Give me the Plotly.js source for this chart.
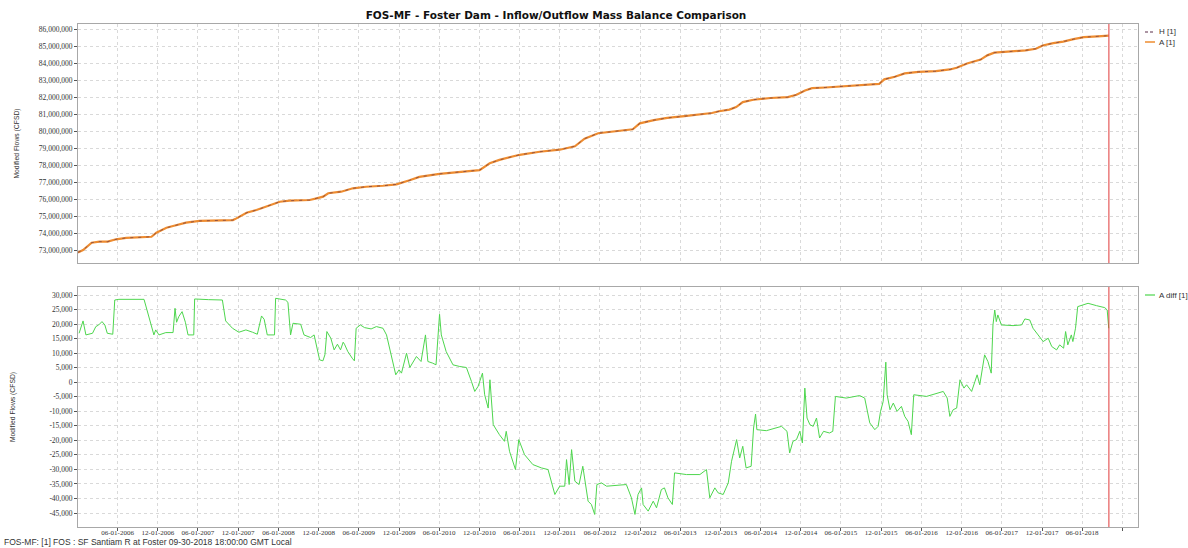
<!DOCTYPE html>
<html>
<head>
<meta charset="utf-8">
<script src="https://cdn.plot.ly/plotly-3.0.1.min.js"></script>
<style>html,body{margin:0;padding:0;background:#fff;}#chart{width:1188px;height:548px;}</style>
</head>
<body>
<div id="chart"></div>
<script>
// ---------- DATA ----------
const chartTitle = 'FOS-MF - Foster Dam - Inflow/Outflow Mass Balance Comparison';
const footerText = 'FOS-MF: [1] FOS : SF Santiam R at Foster 09-30-2018 18:00:00 GMT Local';
const yTitle = 'Modified Flows (CFSD)';
const seriesNames = ['H [1]', 'A [1]', 'A diff [1]'];
const markerTime = '2018-09-30 18:00';

const cumDates = ['2005-12-03','2005-12-26','2006-02-03','2006-03-10','2006-04-17','2006-05-25','2006-07-10','2006-09-09','2006-11-02','2006-11-24',
'2007-01-09','2007-02-08','2007-04-08','2007-06-08','2007-08-23','2007-11-07','2007-11-23','2008-01-08','2008-02-22','2008-04-22',
'2008-06-07','2008-07-22','2008-10-21','2008-11-21','2008-12-21','2009-01-13','2009-03-13','2009-05-05','2009-07-05','2009-09-19',
'2009-11-19','2010-01-18','2010-03-03','2010-06-03','2010-09-25','2010-12-02','2011-01-17','2011-03-02','2011-06-02','2011-09-01',
'2011-12-01','2012-02-08','2012-03-23','2012-05-24','2012-10-28','2012-11-29','2013-02-01','2013-04-03','2013-06-20','2013-09-07',
'2013-10-23','2013-11-24','2014-01-10','2014-02-10','2014-03-12','2014-04-29','2014-07-16','2014-10-03','2014-11-11','2014-12-20',
'2015-01-21','2015-03-23','2015-05-24','2015-08-11','2015-10-29','2015-11-22','2015-12-15','2016-02-01','2016-03-17','2016-05-19',
'2016-08-06','2016-10-08','2016-11-08','2016-12-25','2017-02-25','2017-03-27','2017-04-28','2017-06-30','2017-09-17','2017-11-03',
'2017-12-04','2018-01-21','2018-03-07','2018-04-23','2018-06-09','2018-08-11','2018-09-30'];

const cumA = [72860000,73000000,73430000,73490000,73490000,73630000,73710000,73750000,73780000,74020000,
74310000,74410000,74610000,74710000,74750000,74760000,74860000,75190000,75350000,75610000,
75840000,75900000,75940000,76040000,76140000,76340000,76430000,76630000,76720000,76780000,
76860000,77100000,77300000,77480000,77600000,77700000,78100000,78300000,78600000,78780000,
78900000,79100000,79550000,79870000,80100000,80450000,80640000,80770000,80870000,80970000,
81060000,81160000,81260000,81410000,81700000,81840000,81940000,81990000,82130000,82380000,
82520000,82560000,82610000,82650000,82710000,82770000,83040000,83190000,83390000,83480000,
83520000,83620000,83720000,83970000,84200000,84450000,84610000,84680000,84740000,84840000,
85030000,85170000,85260000,85400000,85520000,85570000,85610000];

const cumH = [72860000,73000000,73430000,73490000,73490000,73630000,73710000,73750000,73780000,74020000,
74310000,74410000,74610000,74710000,74750000,74760000,74860000,75190000,75350000,75610000,
75840000,75900000,75940000,76040000,76140000,76340000,76430000,76630000,76720000,76780000,
76860000,77100000,77300000,77480000,77600000,77700000,78100000,78300000,78600000,78780000,
78900000,79100000,79550000,79870000,80100000,80450000,80640000,80770000,80870000,80970000,
81060000,81160000,81260000,81410000,81700000,81840000,81940000,81990000,82130000,82380000,
82520000,82560000,82610000,82650000,82710000,82770000,83040000,83190000,83390000,83480000,
83520000,83620000,83720000,83970000,84200000,84450000,84610000,84680000,84740000,84840000,
85030000,85170000,85260000,85400000,85520000,85570000,85610000];

const diffDates = ['2005-12-08','2005-12-26','2006-01-08','2006-02-07','2006-02-22','2006-03-07','2006-03-22','2006-04-04','2006-04-15','2006-05-10',
'2006-05-19','2006-06-07','2006-09-29','2006-10-24','2006-11-13','2006-11-21','2006-12-06','2007-01-06','2007-02-08','2007-02-17',
'2007-02-24','2007-03-06','2007-03-21','2007-04-05','2007-04-17','2007-05-13','2007-05-17','2007-07-20','2007-09-20','2007-10-05',
'2007-11-05','2007-12-04','2008-01-05','2008-02-04','2008-02-26','2008-03-16','2008-03-28','2008-04-11','2008-05-14','2008-05-19',
'2008-07-03','2008-07-14','2008-07-26','2008-08-06','2008-09-10','2008-09-25','2008-10-25','2008-11-10','2008-11-21','2008-12-05',
'2008-12-20','2008-12-29','2009-01-07','2009-01-25','2009-02-09','2009-02-24','2009-03-10','2009-03-22','2009-03-28','2009-04-12',
'2009-05-02','2009-05-12','2009-05-20','2009-06-08','2009-06-27','2009-07-27','2009-08-20','2009-09-19','2009-10-05','2009-11-04',
'2009-11-16','2009-12-01','2009-12-12','2010-01-04','2010-01-19','2010-02-18','2010-03-11','2010-03-31','2010-04-11','2010-05-03',
'2010-05-18','2010-06-03','2010-06-11','2010-07-03','2010-08-03','2010-09-03','2010-10-03','2010-10-26','2010-11-10','2010-11-25',
'2010-12-15','2010-12-25','2011-01-03','2011-01-10','2011-01-18','2011-02-02','2011-03-02','2011-03-25','2011-04-02','2011-04-17',
'2011-05-14','2011-05-29','2011-06-24','2011-08-01','2011-09-09','2011-10-09','2011-11-09','2011-12-01','2011-12-24','2012-01-01',
'2012-01-13','2012-01-24','2012-02-08','2012-02-27','2012-03-15','2012-03-28','2012-04-08','2012-04-23','2012-05-08','2012-05-18',
'2012-06-08','2012-07-01','2012-09-29','2012-10-22','2012-11-07','2012-11-21','2012-12-07','2012-12-14','2013-01-06','2013-01-29',
'2013-02-13','2013-03-07','2013-03-21','2013-04-06','2013-04-26','2013-05-06','2013-06-29','2013-08-29','2013-09-28','2013-10-13',
'2013-11-05','2013-11-20','2013-12-13','2014-01-05','2014-01-20','2014-02-12','2014-02-26','2014-03-12','2014-03-27','2014-04-19',
'2014-04-30','2014-05-09','2014-05-15','2014-06-27','2014-09-04','2014-09-29','2014-10-11','2014-10-26','2014-11-11','2014-11-26',
'2014-12-08','2014-12-19','2014-12-29','2015-01-11','2015-01-26','2015-02-10','2015-02-24','2015-03-14','2015-04-10','2015-04-25',
'2015-05-07','2015-06-25','2015-08-25','2015-09-17','2015-10-10','2015-11-02','2015-11-17','2015-11-28','2015-12-10','2015-12-22',
'2015-12-28','2016-01-10','2016-01-25','2016-02-11','2016-03-02','2016-03-17','2016-04-01','2016-04-16','2016-04-27','2016-06-24',
'2016-09-08','2016-09-26','2016-10-08','2016-10-23','2016-11-08','2016-11-23','2016-12-11','2016-12-23','2017-01-15','2017-01-30',
'2017-02-09','2017-02-21','2017-03-15','2017-03-30','2017-04-14','2017-04-22','2017-04-30','2017-05-07','2017-05-14','2017-05-30',
'2017-07-22','2017-08-30','2017-09-14','2017-10-06','2017-10-21','2017-11-13','2017-12-06','2017-12-29','2018-01-14','2018-02-05',
'2018-02-19','2018-03-09','2018-03-18','2018-03-28','2018-04-13','2018-04-20','2018-05-02','2018-05-12','2018-06-28','2018-08-05',
'2018-09-12','2018-09-23','2018-09-30'];

const diffValues = [16840,21080,16270,16840,19130,19700,20850,19700,16840,16500,
28280,28510,28510,22000,16270,17990,16270,17070,17070,25420,
20620,22560,24280,20620,16270,16270,28630,28400,28280,21080,
18560,17190,17990,17190,16500,22790,21650,16270,16270,28860,
28280,27480,16270,20280,19930,16270,15360,16270,12270,7690,
7350,9410,17420,15130,11120,13070,11120,13760,13070,10550,
8260,7350,18560,19700,18790,18330,19130,18560,16270,5980,
2540,4260,3120,9980,5060,8840,7120,16270,7120,6550,
5980,23360,16270,10550,5980,5400,5060,250,-3180,-1460,
3120,-4320,-7180,-8900,830,-14620,-18050,-20340,-16900,-23770,
-30060,-19760,-24910,-28340,-29490,-30060,-38640,-35780,-35780,-26630,
-35210,-23200,-34060,-35210,-28920,-34640,-40930,-42070,-45500,-35210,
-34640,-35780,-35210,-39790,-45500,-38640,-36360,-42070,-44360,-40930,
-43220,-36930,-36360,-39790,-42070,-31200,-31780,-31780,-30060,-39790,
-36360,-38070,-38640,-34640,-27200,-19760,-26060,-22050,-29490,-28920,
-15760,-10960,-16330,-16680,-15190,-16900,-24340,-20340,-19760,-16900,
-20910,-2030,-12330,-14620,-15190,-12330,-19190,-16900,-17470,-16900,
-4890,-5460,-4600,-5460,-14000,-16330,-15190,-10040,-6610,6890,
-4320,-9470,-7180,-10040,-8320,-11760,-13470,-18050,-4320,-4890,
-3180,-5460,-11760,-9470,-8900,830,-2030,-890,-3180,250,
2540,-890,9410,7120,3120,19700,24850,20850,23140,19700,
19470,19700,21760,21420,18560,16270,13980,15130,12270,11120,
12840,11700,17420,12840,16270,13980,18560,26000,27140,26340,
25650,24850,18560];

const xTickDates = ['2006-06-01','2006-12-01','2007-06-01','2007-12-01','2008-06-01','2008-12-01','2009-06-01','2009-12-01',
'2010-06-01','2010-12-01','2011-06-01','2011-12-01','2012-06-01','2012-12-01','2013-06-01','2013-12-01',
'2014-06-01','2014-12-01','2015-06-01','2015-12-01','2016-06-01','2016-12-01','2017-06-01','2017-12-01','2018-06-01','2018-12-01'];
const xTickLabels = ['06-01-2006','12-01-2006','06-01-2007','12-01-2007','06-01-2008','12-01-2008','06-01-2009','12-01-2009',
'06-01-2010','12-01-2010','06-01-2011','12-01-2011','06-01-2012','12-01-2012','06-01-2013','12-01-2013',
'06-01-2014','12-01-2014','06-01-2015','12-01-2015','06-01-2016','12-01-2016','06-01-2017','12-01-2017','06-01-2018',''];

const diffTickVals = [30000,25000,20000,15000,10000,5000,0,-5000,-10000,-15000,-20000,-25000,-30000,-35000,-40000,-45000];
const diffTickLabels = ['30,000','25,000','20,000','15,000','10,000','5,000','0','-5,000','-10,000','-15,000','-20,000','-25,000','-30,000','-35,000','-40,000','-45,000'];

// ---------- STYLE ----------
const colH = '#5a2c48', colA = '#ee8c30', colDiff = '#4ed64e', colMarker = '#e03a3a';
const gridCol = '#d9d9d9', frameCol = '#a8a8a8', txtCol = '#333333';
const tickFont = {family:'Liberation Serif, serif', size:7.5, color:txtCol};
const xRange = ['2005-12-03','2019-02-10'];

const traces = [
  {x:cumDates, y:cumA, type:'scatter', mode:'lines', name:seriesNames[1], xaxis:'x', yaxis:'y',
   line:{color:colA, width:2.2}},
  {x:cumDates, y:cumH, type:'scatter', mode:'lines', name:seriesNames[0], xaxis:'x', yaxis:'y',
   opacity:0.75, line:{color:colH, width:0.8, dash:'3px,5px'}},
  {x:diffDates, y:diffValues, type:'scatter', mode:'lines', name:seriesNames[2], xaxis:'x2', yaxis:'y2',
   line:{color:colDiff, width:1}}
];

const L = 78, R = 1138, T = 24, B = 527;
const px = v => (v - L) / (R - L);
const py = v => (B - v) / (B - T);

const axisCommon = {showgrid:true, gridcolor:gridCol, griddash:'dot', gridwidth:1, zeroline:false,
  showline:true, mirror:true, linecolor:frameCol, linewidth:1};

const layout = {
  width:1188, height:548,
  margin:{l:L, r:1188-R, t:T, b:548-B, pad:0},
  paper_bgcolor:'#ffffff', plot_bgcolor:'#ffffff',
  showlegend:false,
  title:{text:chartTitle, font:{family:'DejaVu Sans, sans-serif', size:10.5, color:'#111', weight:700},
    xref:'container', x:556/1188, xanchor:'center', yref:'container', y:1-15/548, yanchor:'middle'},
  xaxis:Object.assign({}, axisCommon, {type:'date', range:xRange, anchor:'y', tickvals:xTickDates, ticktext:xTickLabels,
    showticklabels:false, ticks:''}),
  yaxis:Object.assign({}, axisCommon, {domain:[py(263),1], range:[72235000,86294000], tick0:0, dtick:1000000,
    tickformat:',d', ticks:'outside', ticklen:3, tickcolor:'#555', tickfont:tickFont,
    title:{text:yTitle, font:{family:'Liberation Sans, sans-serif', size:6.8, color:txtCol}, standoff:18}}),
  xaxis2:Object.assign({}, axisCommon, {type:'date', range:xRange, anchor:'y2', matches:'x', tickvals:xTickDates, ticktext:xTickLabels,
    ticks:'outside', ticklen:3, tickcolor:'#555', ticklabelstandoff:-4,
    tickfont:{family:'Liberation Serif, serif', size:7, color:txtCol}}),
  yaxis2:Object.assign({}, axisCommon, {domain:[0,py(287)], range:[-49817,32752], tickvals:diffTickVals, ticktext:diffTickLabels,
    ticks:'outside', ticklen:3, tickcolor:'#555', tickfont:tickFont,
    title:{text:yTitle, font:{family:'Liberation Sans, sans-serif', size:6.8, color:txtCol}, standoff:32}}),
  shapes:[
    {type:'line', xref:'x', yref:'y domain', x0:markerTime, x1:markerTime, y0:0, y1:1, line:{color:colMarker, width:1}},
    {type:'line', xref:'x2', yref:'y2 domain', x0:markerTime, x1:markerTime, y0:0, y1:1, line:{color:colMarker, width:1}},
    {type:'line', xref:'paper', yref:'paper', x0:px(1145), x1:px(1155), y0:py(32), y1:py(32), line:{color:colH, width:1.2, dash:'3px,2px'}},
    {type:'line', xref:'paper', yref:'paper', x0:px(1145), x1:px(1155), y0:py(42), y1:py(42), line:{color:colA, width:1.5}},
    {type:'line', xref:'paper', yref:'paper', x0:px(1145), x1:px(1155), y0:py(295), y1:py(295), line:{color:colDiff, width:1.2}}
  ],
  annotations:[
    {text:seriesNames[0], xref:'paper', yref:'paper', x:px(1157), y:py(32), xanchor:'left', yanchor:'middle', showarrow:false,
     font:{family:'Liberation Sans, sans-serif', size:8, color:txtCol}},
    {text:seriesNames[1], xref:'paper', yref:'paper', x:px(1157), y:py(42), xanchor:'left', yanchor:'middle', showarrow:false,
     font:{family:'Liberation Sans, sans-serif', size:8, color:txtCol}},
    {text:seriesNames[2], xref:'paper', yref:'paper', x:px(1157), y:py(295), xanchor:'left', yanchor:'middle', showarrow:false,
     font:{family:'Liberation Sans, sans-serif', size:8, color:txtCol}},
    {text:footerText, xref:'paper', yref:'paper', x:px(2), y:py(541.5), xanchor:'left', yanchor:'middle', showarrow:false,
     font:{family:'Liberation Sans, sans-serif', size:8.5, color:txtCol}}
  ]
};

Plotly.newPlot('chart', traces, layout, {displayModeBar:false, responsive:false, staticPlot:true});
</script>
</body>
</html>
